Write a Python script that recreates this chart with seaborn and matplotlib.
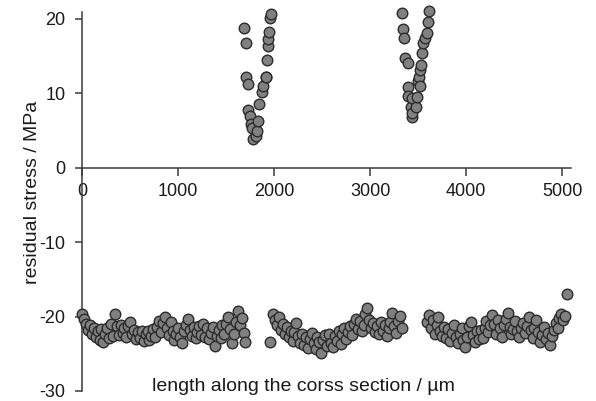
import numpy as np
import matplotlib
matplotlib.use("Agg")
import matplotlib.pyplot as plt
import pandas as pd
import seaborn as sns

# upper V-shaped clusters (length in um, stress in MPa)
peak1_x = [1688, 1701, 1701, 1722, 1729, 1747, 1757, 1771, 1781, 1805, 1816, 1833, 1844,
           1868, 1885, 1909, 1909, 1927, 1938, 1938, 1945, 1955, 1965]
peak1_y = [18.7, 16.8, 12.2, 11.3, 7.8, 6.9, 5.8, 5.3, 3.8, 4.3, 4.9, 6.2, 8.5,
           10.1, 10.9, 12.2, 12.2, 14.5, 16.4, 17.3, 18.2, 20.1, 20.6]

peak2_x = [3334, 3344, 3352, 3362, 3389, 3396, 3396, 3424, 3430, 3438, 3438, 3472, 3483,
           3493, 3508, 3518, 3521, 3528, 3535, 3552, 3570, 3587, 3597, 3611]
peak2_y = [20.8, 18.6, 17.4, 14.7, 14.1, 10.8, 9.6, 8.2, 6.8, 9.3, 7.4, 8.2, 9.5,
           11.6, 12.2, 11.0, 13.1, 13.8, 15.4, 16.8, 17.4, 18.1, 19.5, 21.1]

# lower band, first section
band1_x = [0, 20, 40, 60, 80, 100, 120, 140, 160, 180, 200, 220, 240, 260, 280, 300,
           320, 340, 360, 380, 400, 420, 440, 460, 480, 500, 520, 540, 560, 580, 600,
           620, 640, 660, 680, 700, 720, 740, 760, 780, 800, 820, 840, 860, 880, 900,
           920, 940, 960, 980, 1000, 1020, 1040, 1060, 1080, 1100, 1120, 1140, 1160,
           1180, 1200, 1220, 1240, 1260, 1280, 1300, 1320, 1340, 1360, 1380, 1400,
           1420, 1440, 1460, 1480, 1500, 1520, 1540, 1560, 1580, 1600, 1620, 1640,
           1660, 1680, 1700]
band1_y = [-19.6, -20.3, -21.0, -21.8, -21.2, -22.4, -21.6, -22.8, -22.0, -23.1, -21.7,
           -23.4, -22.3, -21.5, -22.9, -21.0, -22.6, -19.6, -21.3, -22.5, -21.1, -22.2,
           -21.5, -22.7, -21.3, -20.8, -22.4, -21.8, -23.0, -22.1, -22.9, -21.9, -23.3,
           -22.4, -22.0, -23.2, -22.6, -21.7, -22.8, -21.4, -20.6, -22.1, -20.9, -20.0,
           -21.6, -22.5, -20.8, -22.0, -23.1, -22.3, -21.5, -22.8, -23.6, -22.0, -21.2,
           -20.3, -21.8, -22.6, -21.4, -22.9, -22.1, -21.3, -22.5, -21.0, -22.7, -21.6,
           -23.0, -22.2, -21.4, -23.9, -22.6, -21.8, -22.9, -21.2, -22.4, -21.0, -20.1,
           -21.7, -23.5, -22.3, -20.8, -19.3, -21.1, -20.2, -22.2, -23.4]

# lower band, second section
band2_x = [1960, 1990, 2010, 2030, 2050, 2070, 2090, 2110, 2130, 2150, 2170, 2190, 2210,
           2230, 2250, 2270, 2290, 2310, 2330, 2350, 2370, 2390, 2410, 2430, 2450,
           2470, 2490, 2510, 2530, 2550, 2570, 2590, 2610, 2630, 2650, 2670, 2690,
           2710, 2730, 2750, 2770, 2790, 2810, 2830, 2850, 2870, 2890, 2910, 2930,
           2950, 2970, 2990, 3010, 3030, 3050, 3070, 3090, 3110, 3130, 3150, 3170,
           3190, 3210, 3230, 3250, 3270, 3290, 3310, 3330]
band2_y = [-23.4, -19.6, -20.4, -21.2, -20.1, -21.8, -21.0, -22.3, -21.4, -22.8, -21.9,
           -23.3, -22.1, -20.9, -22.6, -23.5, -22.4, -23.8, -22.7, -24.2, -23.0, -22.2,
           -23.6, -24.4, -22.8, -23.4, -24.9, -23.2, -22.5, -23.9, -22.4, -23.5, -24.1,
           -22.6, -23.3, -22.0, -23.7, -22.4, -21.6, -23.0, -22.1, -21.3, -22.5, -21.0,
           -20.3, -21.7, -20.6, -22.0, -21.2, -19.6, -18.8, -20.4, -21.5, -20.9, -22.1,
           -21.3, -22.4, -20.8, -21.9, -21.2, -22.6, -21.5, -20.7, -19.5, -21.3, -22.2,
           -20.6, -19.9, -21.6]

# lower band, third section
band3_x = [3590, 3610, 3630, 3650, 3670, 3690, 3710, 3730, 3750, 3770, 3790, 3810, 3830,
           3850, 3870, 3890, 3910, 3930, 3950, 3970, 3990, 4010, 4030, 4050, 4070,
           4090, 4110, 4130, 4150, 4170, 4190, 4210, 4230, 4250, 4270, 4290, 4310,
           4330, 4350, 4370, 4390, 4410, 4430, 4450, 4470, 4490, 4510, 4530, 4550,
           4570, 4590, 4610, 4630, 4650, 4670, 4690, 4710, 4730, 4750, 4770, 4790,
           4810, 4830, 4850, 4870, 4890, 4910, 4930, 4950, 4970, 4990, 5010, 5030, 5050]
band3_y = [-20.8, -19.8, -21.6, -20.5, -22.3, -21.2, -20.0, -21.9, -22.6, -21.4, -22.9,
           -21.7, -23.3, -22.2, -21.1, -22.7, -23.6, -22.4, -21.6, -23.1, -24.1, -22.8,
           -21.3, -20.7, -22.5, -23.4, -22.0, -23.0, -21.8, -22.9, -21.5, -20.6, -22.1,
           -21.2, -19.8, -21.0, -22.3, -20.4, -21.6, -22.7, -21.1, -20.3, -19.5, -21.4,
           -22.4, -21.7, -20.6, -22.0, -22.8, -21.5, -20.9, -22.2, -21.3, -20.1, -21.8,
           -22.9, -21.6, -20.4, -22.1, -23.4, -22.5, -21.4, -23.0, -22.2, -23.8, -22.6,
           -21.8, -20.9, -21.5, -20.2, -19.6, -20.4, -19.9, -17.0]

df = pd.DataFrame({
    "x": peak1_x + peak2_x + band1_x + band2_x + band3_x,
    "y": peak1_y + peak2_y + band1_y + band2_y + band3_y,
})

sns.set_style("ticks")
plt.rcParams["font.family"] = ["Liberation Sans", "DejaVu Sans"]
plt.rcParams["axes.unicode_minus"] = False

fig = plt.figure(figsize=(5.96, 4.01), dpi=100)
ax = fig.add_axes([0.138, 0.025, 0.82, 0.945])

sns.scatterplot(data=df, x="x", y="y", ax=ax, s=58, color="#808080",
                edgecolor="#2b2b2b", linewidth=1.0, clip_on=False, zorder=3)

ax.set_xlim(0, 5090)
ax.set_ylim(-30, 20.9)
ax.set_xticks([0, 1000, 2000, 3000, 4000, 5000])
ax.set_yticks([-30, -20, -10, 0, 10, 20])

for side in ["top", "right"]:
    ax.spines[side].set_visible(False)
ax.spines["bottom"].set_position(("data", 0))
for side in ["left", "bottom"]:
    ax.spines[side].set_color("#3a3a3a")
    ax.spines[side].set_linewidth(1.1)

ax.tick_params(axis="x", direction="out", length=6, width=1.1, color="#3a3a3a",
               pad=5, labelsize=13, labelcolor="#1a1a1a")
ax.tick_params(axis="y", direction="out", length=5, width=1.1, color="#3a3a3a",
               pad=7, labelsize=13, labelcolor="#1a1a1a")

ax.set_xlabel("length along the corss section / µm", fontsize=14, color="#1a1a1a")
ax.set_ylabel("residual stress / MPa", fontsize=14, color="#1a1a1a")
ax.xaxis.set_label_coords(0.452, 0.035)
ax.yaxis.set_label_coords(-0.085, 0.525)

fig.savefig("out.png", dpi=100)
